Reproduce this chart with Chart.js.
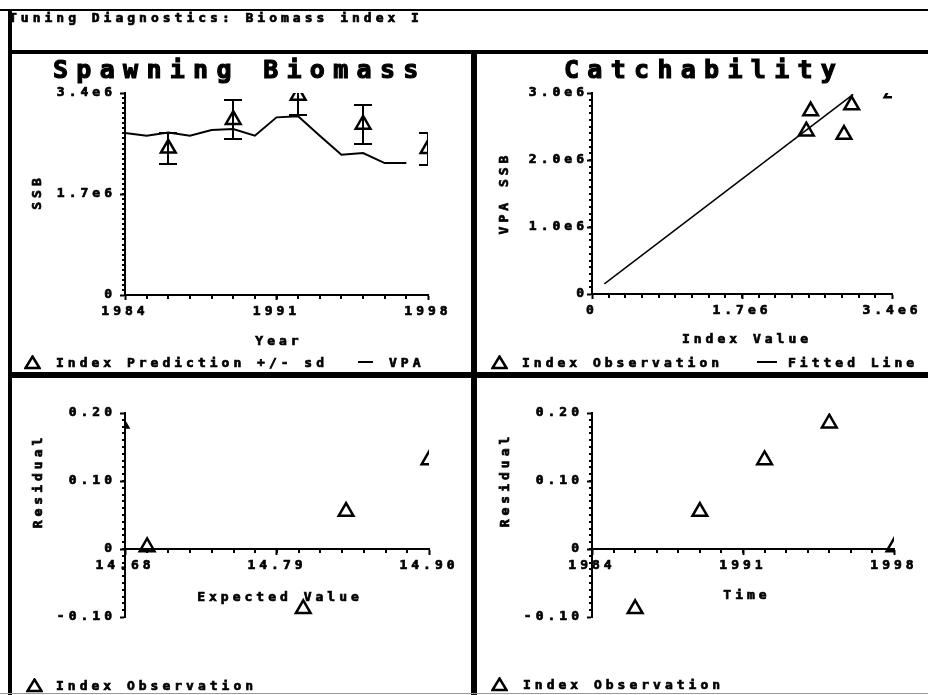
<!DOCTYPE html>
<html>
<head>
<meta charset="utf-8">
<title>Tuning Diagnostics</title>
<script src="https://cdn.jsdelivr.net/npm/chart.js@4.4.1/dist/chart.umd.min.js"></script>
<style>
  body { margin: 0; background: #fff; }
  #page {
    position: relative; width: 928px; height: 695px; overflow: hidden; background: #fff;
    font: bold 13px "DejaVu Sans Mono", monospace; letter-spacing: 4px; color: #000;
    -webkit-text-stroke: 0.7px #000;
  }
  canvas { position: absolute; left: 0; top: 0; }
  .rule { position: absolute; background: #000; }
  .txt { position: absolute; white-space: nowrap; line-height: 13px; }
  .big { font-size: 25px; line-height: 25px; letter-spacing: 8.3px; -webkit-text-stroke: 1.2px #000; }
  .c { transform: translate(-50%, -50%); padding-left: 4px; }
  .v { transform: translate(-50%, -50%) rotate(-90deg); padding-left: 4px; }
  .tri { position: absolute; }
</style>
</head>
<body>
<div id="page">
  <!-- frame -->
  <div class="rule" style="left:0;top:9px;width:928px;height:2px"></div>
  <div class="rule" style="left:8px;top:10px;width:4px;height:685px"></div>
  <div class="rule" style="left:8px;top:50px;width:920px;height:4px"></div>
  <div class="rule" style="left:471px;top:52px;width:6px;height:643px"></div>
  <div class="rule" style="left:8px;top:372px;width:920px;height:6px"></div>
  <div class="rule" style="left:0;top:693px;width:928px;height:1px;background:#999"></div>

  <canvas id="ssbChart" width="928" height="695"></canvas>
  <canvas id="catchChart" width="928" height="695"></canvas>
  <canvas id="expChart" width="928" height="695"></canvas>
  <canvas id="timeChart" width="928" height="695"></canvas>

  <div class="txt" style="left:9px;top:11px">Tuning Diagnostics: Biomass index I</div>

  <!-- top left -->
  <div class="txt big" style="left:53px;top:57px">Spawning Biomass</div>
  <div class="txt v" style="left:36px;top:194px">SSB</div>
  <div class="txt c" style="left:277px;top:340px">Year</div>
  <svg class="tri" style="left:24px;top:355px" width="17" height="15"><polygon points="8.5,1.5 15.5,13 1.5,13" fill="none" stroke="#000" stroke-width="2.5"/></svg>
  <div class="txt" style="left:56px;top:356px">Index Prediction +/- sd</div>
  <div class="rule" style="left:358px;top:361px;width:15px;height:2px"></div>
  <div class="txt" style="left:389px;top:356px">VPA</div>

  <!-- top right -->
  <div class="txt big" style="left:564px;top:57px">Catchability</div>
  <div class="txt v" style="left:503px;top:195px">VPA SSB</div>
  <div class="txt c" style="left:745px;top:338px">Index Value</div>
  <svg class="tri" style="left:491px;top:355px" width="17" height="15"><polygon points="8.5,1.5 15.5,13 1.5,13" fill="none" stroke="#000" stroke-width="2.5"/></svg>
  <div class="txt" style="left:522px;top:356px">Index Observation</div>
  <div class="rule" style="left:757px;top:361px;width:20px;height:2px"></div>
  <div class="txt" style="left:788px;top:356px">Fitted Line</div>

  <!-- bottom left -->
  <div class="txt v" style="left:37px;top:483px">Residual</div>
  <div class="txt c" style="left:278px;top:596px">Expected Value</div>
  <svg class="tri" style="left:26px;top:678px" width="17" height="15"><polygon points="8.5,1.5 15.5,13 1.5,13" fill="none" stroke="#000" stroke-width="2.5"/></svg>
  <div class="txt" style="left:56px;top:679px">Index Observation</div>

  <!-- bottom right -->
  <div class="txt v" style="left:504px;top:482px">Residual</div>
  <div class="txt c" style="left:745px;top:594px">Time</div>
  <svg class="tri" style="left:491px;top:677px" width="17" height="15"><polygon points="8.5,1.5 15.5,13 1.5,13" fill="none" stroke="#000" stroke-width="2.5"/></svg>
  <div class="txt" style="left:523px;top:678px">Index Observation</div>
</div>

<script>
// VPA spawning stock biomass by year
const years = [1984, 1985, 1986, 1987, 1988, 1989, 1990, 1991, 1992, 1993, 1994, 1995, 1996, 1997];
const vpaSsb = [2.726e6, 2.681e6, 2.737e6, 2.681e6, 2.776e6, 2.793e6, 2.681e6, 2.990e6, 3.007e6, 2.681e6, 2.360e6, 2.388e6, 2.220e6, 2.220e6];

// index predictions +/- sd
const predYears = [1986, 1989, 1992, 1995, 1998];
const predSsb = [2.47e6, 2.95e6, 3.36e6, 2.87e6, 2.46e6];
const predSd = [0.265e6, 0.325e6, 0.33e6, 0.325e6, 0.27e6];

// catchability: index observation vs VPA SSB, plus fitted line ends
const indexValue = [2.478e6, 2.429e6, 2.943e6, 2.856e6, 3.40e6];
const obsSsb = [2.73e6, 2.43e6, 2.82e6, 2.38e6, 3.00e6];
const fitX = [0.14e6, 2.96e6];
const fitY = [0.15e6, 2.98e6];

// residuals
const resYears = [1986, 1989, 1992, 1995, 1998];
const residuals = [-0.088, 0.055, 0.131, 0.185, 0.003];
const expected = [14.809, 14.840, 14.900, 14.677, 14.696];

// tick values and labels
const yearTicks = [1984, 1991, 1998];
const yearLabels = ['1984', '1991', '1998'];
const ssbTicks = [0, 1.7e6, 3.4e6];
const ssbLabels = ['0', '1.7e6', '3.4e6'];
const vpaTicks = [0, 1e6, 2e6, 3e6];
const vpaLabels = ['0', '1.0e6', '2.0e6', '3.0e6'];
const expTicks = [14.68, 14.79, 14.90];
const expLabels = ['14.68', '14.79', '14.90'];
const resTicks = [-0.1, 0, 0.1, 0.2];
const resLabels = ['-0.10', '0', '0.10', '0.20'];

Chart.defaults.font = { family: '"DejaVu Sans Mono", monospace', size: 13, weight: 'bold' };
Chart.defaults.color = '#000';

// wide spaced lettering for the tick labels
Chart.register({
    id: 'spacedText',
    beforeUpdate(chart) { chart.ctx.letterSpacing = '4px'; },
    beforeDraw(chart) { chart.ctx.letterSpacing = '4px'; }
});

const Y_BOX = 100;  // width kept for y tick labels
const X_BOX = 40;   // height kept for x tick labels (bottom axes only)

function area(left, top, right, bottom, xAtZero) {
    const xBox = xAtZero ? 0 : X_BOX;
    return { padding: { left: left - Y_BOX, top, right: 928 - right, bottom: 695 - bottom - xBox } };
}

function axis(min, max, values, labels, pad, extra) {
    return Object.assign({
        type: 'linear', min, max,
        afterBuildTicks: s => { s.ticks = values.map(v => ({ value: v })); },
        afterFit: s => {
            if (s.isHorizontal()) s.height = X_BOX; else s.width = Y_BOX;
            s.paddingLeft = s.paddingRight = s.paddingTop = s.paddingBottom = 0;
        },
        border: { display: true, color: '#000', width: 2 },
        grid: { drawOnChartArea: false, drawTicks: true, tickLength: 5, tickWidth: 2, tickColor: '#000' },
        ticks: {
            autoSkip: false, maxRotation: 0, padding: pad, color: '#000',
            textStrokeColor: '#000', textStrokeWidth: 0.7,
            callback: (v, i) => labels[i]
        }
    }, extra || {});
}

// small unlabelled ticks along both axes
function minorTicks(xStep, yStep, xAxisAt) {
    return {
        id: 'minorTicks',
        afterDraw(chart) {
            const { ctx, chartArea: a, scales: { x, y } } = chart;
            const axisY = xAxisAt === undefined ? a.bottom : Math.round(y.getPixelForValue(xAxisAt));
            ctx.save();
            ctx.strokeStyle = '#000';
            ctx.lineWidth = 2;
            ctx.beginPath();
            const nx = Math.round((x.max - x.min) / xStep);
            for (let i = 1; i < nx; i++) {
                const px = Math.round(x.getPixelForValue(x.min + i * xStep));
                ctx.moveTo(px, axisY);
                ctx.lineTo(px, axisY + 4);
            }
            const ny = Math.round((y.max - y.min) / yStep);
            for (let i = 1; i < ny; i++) {
                const py = Math.round(y.getPixelForValue(y.min + i * yStep));
                ctx.moveTo(a.left - 3, py);
                ctx.lineTo(a.left, py);
            }
            ctx.stroke();
            ctx.restore();
        }
    };
}

// vertical +/- sd bars with caps, clipped to the plot
function errorBars(xs, mids, sds) {
    return {
        id: 'errorBars',
        afterDatasetsDraw(chart) {
            const { ctx, chartArea: a, scales: { x, y } } = chart;
            ctx.save();
            ctx.beginPath();
            ctx.rect(a.left, a.top, a.right - a.left, a.bottom - a.top);
            ctx.clip();
            ctx.strokeStyle = '#000';
            ctx.lineWidth = 2;
            ctx.beginPath();
            xs.forEach((xv, i) => {
                const px = Math.round(x.getPixelForValue(xv));
                const lo = Math.round(y.getPixelForValue(mids[i] - sds[i]));
                const hi = Math.round(y.getPixelForValue(mids[i] + sds[i]));
                ctx.moveTo(px, lo); ctx.lineTo(px, hi);
                ctx.moveTo(px - 9, lo); ctx.lineTo(px + 9, lo);
                ctx.moveTo(px - 9, hi); ctx.lineTo(px + 9, hi);
            });
            ctx.stroke();
            ctx.restore();
        }
    };
}

const tri = {
    type: 'scatter', showLine: false, pointStyle: 'triangle', pointRadius: 8.5,
    pointBorderWidth: 2.5, pointBorderColor: '#000', pointBackgroundColor: 'rgba(0,0,0,0)'
};

const base = {
    responsive: false, animation: false, events: [],
    plugins: { legend: { display: false }, tooltip: { enabled: false } }
};

function pairs(xs, ys) { return xs.map((v, i) => ({ x: v, y: ys[i] })); }

// Spawning Biomass
new Chart(document.getElementById('ssbChart'), {
    type: 'scatter',
    data: {
        datasets: [
            { ...tri, data: pairs(predYears, predSsb) },
            { type: 'scatter', showLine: true, data: pairs(years, vpaSsb), borderColor: '#000', borderWidth: 2, pointRadius: 0 }
        ]
    },
    options: {
        ...base,
        layout: area(125, 93, 428, 295),
        scales: {
            x: axis(1984, 1998, yearTicks, yearLabels, 4),
            y: axis(0, 3.4e6, ssbTicks, ssbLabels, 4)
        }
    },
    plugins: [minorTicks(1, 0.085e6), errorBars(predYears, predSsb, predSd)]
});

// Catchability
new Chart(document.getElementById('catchChart'), {
    type: 'scatter',
    data: {
        datasets: [
            { ...tri, data: pairs(indexValue, obsSsb) },
            { type: 'scatter', showLine: true, data: pairs(fitX, fitY), borderColor: '#000', borderWidth: 1.5, pointRadius: 0 }
        ]
    },
    options: {
        ...base,
        layout: area(592, 93, 892, 294),
        scales: {
            x: axis(0, 3.4e6, ssbTicks, ssbLabels, 4),
            y: axis(0, 3.0e6, vpaTicks, vpaLabels, -1)
        }
    },
    plugins: [minorTicks(1.7e6 / 9, 0.1e6)]
});

// Residual vs expected value
new Chart(document.getElementById('expChart'), {
    type: 'scatter',
    data: { datasets: [{ ...tri, data: pairs(expected, residuals) }] },
    options: {
        ...base,
        layout: area(125, 413, 429, 617, true),
        scales: {
            x: axis(14.68, 14.90, expTicks, expLabels, 4, { position: { y: 0 } }),
            y: axis(-0.1, 0.2, resTicks, resLabels, 4)
        }
    },
    plugins: [minorTicks(0.22 / 14, 0.01, 0)]
});

// Residual vs time
new Chart(document.getElementById('timeChart'), {
    type: 'scatter',
    data: { datasets: [{ ...tri, data: pairs(resYears, residuals) }] },
    options: {
        ...base,
        layout: area(592, 413, 894, 617, true),
        scales: {
            x: axis(1984, 1998, yearTicks, yearLabels, 4, { position: { y: 0 } }),
            y: axis(-0.1, 0.2, resTicks, resLabels, 4)
        }
    },
    plugins: [minorTicks(1, 0.01, 0)]
});
</script>
</body>
</html>
